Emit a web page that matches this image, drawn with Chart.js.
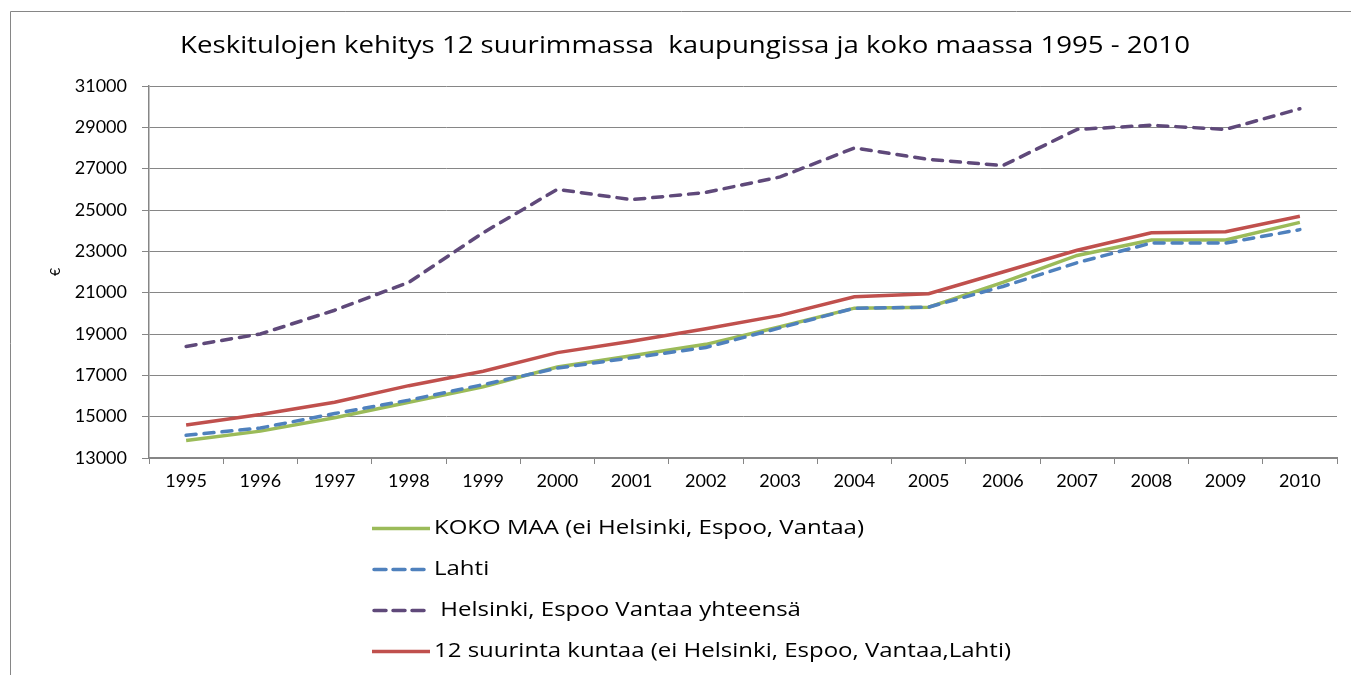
<!DOCTYPE html>
<html>
<head>
<meta charset="utf-8">
<script src="https://cdn.jsdelivr.net/npm/chart.js@4"></script>
<style>
html,body{margin:0;padding:0;background:#fff;}
#wrap{position:relative;width:1351px;height:675px;}
</style>
</head>
<body>
<div id="wrap"><canvas id="c" width="1351" height="675"></canvas></div>
<script>
const years = ['1995','1996','1997','1998','1999','2000','2001','2002','2003','2004','2005','2006','2007','2008','2009','2010'];
const kokoMaa = [13850,14300,14950,15700,16450,17400,17950,18500,19350,20250,20300,21500,22800,23550,23550,24400];
const lahti = [14100,14450,15150,15800,16550,17350,17850,18350,19300,20250,20300,21300,22450,23400,23400,24050];
const helsinki = [18400,19000,20150,21500,23900,26000,25500,25850,26600,28000,27450,27150,28900,29100,28900,29900];
const suurinta12 = [14600,15100,15700,16500,17200,18100,18650,19250,19900,20800,20950,22000,23050,23900,23950,24700];
const seriesLabels = ['KOKO MAA (ei Helsinki, Espoo, Vantaa)','Lahti',' Helsinki, Espoo Vantaa yhteensä','12 suurinta kuntaa (ei Helsinki, Espoo, Vantaa,Lahti)'];
const titleText = 'Keskitulojen kehitys 12 suurimmassa  kaupungissa ja koko maassa 1995 - 2010';
const yTitle = '€';

const FONT = 'Lato';
const AX = '#868686';
const DASH = [10, 8];

const framePlugin = {
  id: 'frame',
  beforeDraw(chart) {
    const ctx = chart.ctx;
    ctx.save();
    ctx.fillStyle = '#fff';
    ctx.fillRect(0, 0, chart.width, chart.height);
    ctx.strokeStyle = AX;
    ctx.lineWidth = 1;
    ctx.beginPath();
    ctx.moveTo(10.5, 700);
    ctx.lineTo(10.5, 11.5);
    ctx.lineTo(1400, 11.5);
    ctx.stroke();
    ctx.restore();
  },
  afterDraw(chart) {
    const ctx = chart.ctx;
    ctx.save();
    ctx.fillStyle = '#000';
    ctx.font = '23px "Open Sans"';
    ctx.textAlign = 'center';
    ctx.textBaseline = 'alphabetic';
    ctx.save();
    ctx.translate(685, 52.5);
    ctx.scale(1.2, 1);
    ctx.fillText(titleText, 0, 0);
    ctx.restore();
    // legend
    ctx.font = '20px "Open Sans"';
    ctx.textAlign = 'left';
    ctx.textBaseline = 'middle';
    chart.data.datasets.forEach((ds, i) => {
      const y = 528 + i * 41;
      const dashed = !!ds.borderDash;
      ctx.save();
      ctx.strokeStyle = ds.borderColor;
      ctx.lineWidth = 3.5;
      ctx.lineCap = dashed ? 'round' : 'butt';
      ctx.setLineDash(dashed ? [12, 7] : []);
      ctx.beginPath();
      ctx.moveTo(dashed ? 374 : 372, y + 0.5);
      ctx.lineTo(dashed ? 424 : 430, y + 0.5);
      ctx.stroke();
      ctx.restore();
      ctx.save();
      ctx.fillStyle = '#000';
      ctx.translate(434, y);
      ctx.scale(1.2, 1);
      ctx.fillText(ds.label, 0, 0);
      ctx.restore();
    });
    ctx.restore();
  }
};

new Chart(document.getElementById('c'), {
  type: 'line',
  data: {
    labels: years,
    datasets: [
      {label: seriesLabels[0], data: kokoMaa, borderColor: '#9BBB59', borderWidth: 3.5, order: 4},
      {label: seriesLabels[1], data: lahti, borderColor: '#4F81BD', borderWidth: 3.5, borderDash: DASH, borderCapStyle: 'round', order: 3},
      {label: seriesLabels[2], data: helsinki, borderColor: '#5F497A', borderWidth: 3.5, borderDash: DASH, borderCapStyle: 'round', order: 2},
      {label: seriesLabels[3], data: suurinta12, borderColor: '#C0504D', borderWidth: 3.5, order: 1}
    ]
  },
  options: {
    responsive: false,
    animation: false,
    devicePixelRatio: 1,
    layout: {padding: {left: 0, top: 86, right: 14, bottom: 177}},
    elements: {point: {radius: 0}, line: {tension: 0, fill: false}},
    plugins: {legend: {display: false}, title: {display: false}, tooltip: {enabled: false}},
    scales: {
      x: {
        offset: true,
        afterFit(s) { s.height = 40; },
        grid: {offset: true, drawOnChartArea: false, drawTicks: true, tickLength: 6, color: AX, lineWidth: 1},
        border: {color: AX, width: 2},
        ticks: {color: '#000', font: {family: FONT, size: 18}, padding: 6, maxRotation: 0, autoSkip: false}
      },
      y: {
        min: 13000, max: 31000,
        afterFit(s) { s.width = 149; },
        grid: {color: AX, lineWidth: 1, tickLength: 7},
        border: {color: AX, width: 1.5},
        title: {display: true, text: yTitle, color: '#000', font: {family: FONT, size: 14}, padding: {top: 47, bottom: 0}},
        ticks: {stepSize: 2000, color: '#000', font: {family: FONT, size: 18}, padding: 15, callback: v => String(v)}
      }
    }
  },
  plugins: [framePlugin]
});
</script>
</body>
</html>
